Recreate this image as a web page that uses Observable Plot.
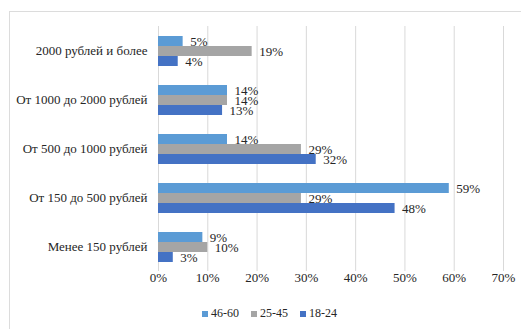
<!DOCTYPE html>
<html>
<head>
<meta charset="utf-8">
<script src="https://cdn.jsdelivr.net/npm/d3@7"></script>
<script src="https://cdn.jsdelivr.net/npm/@observablehq/plot@0.6"></script>
<style>
  body { margin: 0; width: 521px; height: 329px; overflow: hidden; background: #fff; position: relative; font-family: "Liberation Serif", serif; }
  #frame { position: absolute; left: 9px; top: 11px; width: 600px; height: 400px; border: 1px solid #dcdcdc; }
  #chart { position: absolute; left: 0; top: 0; }
  #legend { position: absolute; left: 202px; top: 306px; }
  #legend .lg-swatches { font-family: "Liberation Serif", serif !important; font-size: 12px !important; color: #262626; min-height: 0 !important; margin: 0 !important; }
  #legend .lg-swatch { margin-right: 12px !important; }
  #legend .lg-swatch > svg { margin-right: 3px !important; }
</style>
</head>
<body>
<div id="frame"></div>
<div id="chart"></div>
<div id="legend"></div>
<script>
// Spending brackets, listed top to bottom
const categories = [
  "2000 рублей и более",
  "От 1000 до 2000 рублей",
  "От 500 до 1000 рублей",
  "От 150 до 500 рублей",
  "Менее 150 рублей"
];
// Age groups, in bar order within each bracket
const series = ["46-60", "25-45", "18-24"];
const colors = ["#5b9bd5", "#a5a5a5", "#4472c4"];

// Share of respondents, %
const share4660 = [5, 14, 14, 59, 9];
const share2545 = [19, 14, 29, 29, 10];
const share1824 = [4, 13, 32, 48, 3];

const xTicks = [0, 10, 20, 30, 40, 50, 60, 70];

const bySeries = [share4660, share2545, share1824];
const rows = categories.flatMap((category, i) =>
  series.map((s, j) => ({category, series: s, value: bySeries[j][i]}))
);

const textColor = "#262626";

const chart = Plot.plot({
  width: 521,
  height: 300,
  marginTop: 24,
  marginBottom: 27,
  marginLeft: 158,
  marginRight: 18,
  style: {fontFamily: "'Liberation Serif', serif", fontSize: "13px", color: textColor, background: "transparent"},
  x: {domain: [0, 70], ticks: xTicks, tickFormat: d => d + "%", tickSize: 0, tickPadding: 10, label: null},
  y: {domain: series, axis: null, paddingInner: 0, paddingOuter: 0},
  fy: {domain: categories, axis: "left", label: null, tickSize: 0, tickPadding: 11, paddingInner: 0.36, paddingOuter: 0.18},
  color: {domain: series, range: colors},
  facet: {data: rows, y: "category"},
  marks: [
    Plot.ruleX(xTicks, {stroke: "#d9d9d9", insetTop: -9, insetBottom: -9}),
    Plot.barX(rows, {x: "value", y: "series", fill: "series"}),
    Plot.text(rows, {x: "value", y: "series", text: d => d.value + "%", textAnchor: "start", dx: 7, fill: textColor})
  ]
});
document.getElementById("chart").appendChild(chart);

const legend = Plot.legend({
  color: {type: "ordinal", domain: series, range: colors},
  legend: "swatches",
  swatchSize: 6,
  className: "lg"
});
document.getElementById("legend").appendChild(legend);
</script>
</body>
</html>
